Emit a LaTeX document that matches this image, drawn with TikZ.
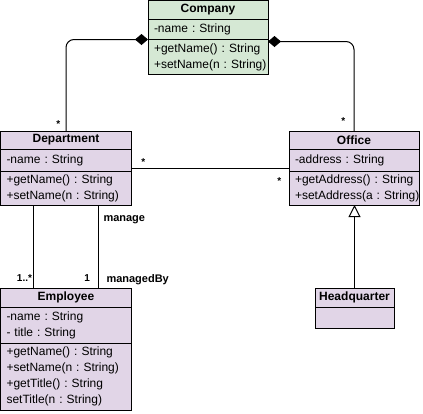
\documentclass[tikz,border=0pt]{standalone}
\usepackage{fontspec}
\setmainfont{Liberation Sans}
\usetikzlibrary{arrows.meta}
\definecolor{umlgreen}{HTML}{D5E8D4}
\definecolor{umlpurple}{HTML}{E1D5E7}
\frenchspacing
\begin{document}
\begin{tikzpicture}[x=1pt, y=-1pt, line width=1pt,
        head/.style={draw, anchor=north west, inner sep=0pt, outer sep=0pt, font=\fontsize{12}{16}\selectfont\bfseries},
        part/.style={draw, anchor=north west, inner xsep=6pt, inner ysep=0pt, outer sep=0pt, align=left, font=\fontsize{12}{16}\selectfont},
        mult/.style={inner sep=0pt, font=\fontsize{10}{12}\selectfont\bfseries},
        role/.style={inner sep=0pt, font=\fontsize{11}{13}\selectfont\bfseries},
        compose/.style={{Diamond[length=13pt, width=11pt]}-, rounded corners=8pt},
        inherit/.style={-{Triangle[open, length=12pt, width=12pt]}}
    ]
    \useasboundingbox (0,0) rectangle (423,413);
    \node[head, fill=umlgreen, minimum width=120pt, minimum height=19pt] (company) at (148,0.5) {Company};
    \node[part, fill=umlgreen, text width=108pt, minimum height=20pt] (companyAttr) at (company.south west) {-name : String};
    \node[part, fill=umlgreen, text width=108pt, minimum height=35pt] (companyOps) at (companyAttr.south west)
        {+getName()~:~String\\+setName(n~:~String)};

    \node[head, fill=umlpurple, minimum width=131pt, minimum height=18pt] (department) at (0.5,131) {Department};
    \node[part, fill=umlpurple, text width=119pt, minimum height=22pt] (deptAttr) at (department.south west) {-name : String};
    \node[part, fill=umlpurple, text width=119pt, minimum height=34pt] (deptOps) at (deptAttr.south west)
        {+getName() : String\\+setName(n : String)};

    \node[head, fill=umlpurple, minimum width=130pt, minimum height=18pt] (office) at (289,131) {Office};
    \node[part, fill=umlpurple, text width=118pt, minimum height=22pt] (officeAttr) at (office.south west) {-address : String};
    \node[part, fill=umlpurple, text width=118pt, minimum height=34pt] (officeOps) at (officeAttr.south west)
        {+getAddress()~:~String\\+setAddress(a~:~String)};

    \node[head, fill=umlpurple, minimum width=131pt, minimum height=19pt] (employee) at (0.5,288) {Employee};
    \node[part, fill=umlpurple, text width=119pt, minimum height=36pt] (empAttr) at (employee.south west)
        {-name : String\\- title : String};
    \node[part, fill=umlpurple, text width=119pt, minimum height=67pt] (empOps) at (empAttr.south west)
        {+getName() : String\\+setName(n : String)\\+getTitle() : String\\setTitle(n : String)};

    \node[head, fill=umlpurple, minimum width=79pt, minimum height=19pt] (hq) at (315,288) {Headquarter};
    \node[part, fill=umlpurple, text width=67pt, minimum height=21pt] (hqBody) at (hq.south west) {};

    \draw[compose] (companyOps.north west) -| (department.north);
    \draw[compose] ([yshift=-2pt]companyOps.north east) -| (office.north);
    \draw ([yshift=3pt]deptOps.north east) -- ([yshift=3pt]officeOps.north west);
    \draw ([xshift=33pt]deptOps.south west) -- ([xshift=33pt]employee.north west);
    \draw ([xshift=98pt]deptOps.south west) -- ([xshift=98pt]employee.north west);
    \draw[inherit] (hq.north) -- (hq.north |- officeOps.south);

    \node[mult, anchor=base] (deptStar) at (58.3,127.5) {*};
    \node[mult, anchor=base] (officeStar) at (343.3,124.1) {*};
    \node[mult, anchor=base] (assocStarL) at (143.3,165.8) {*};
    \node[mult, anchor=base] (assocStarR) at (279.3,184.1) {*};
    \node[mult, anchor=base east] (empMany) at (32.5,281) {1..*};
    \node[mult, anchor=base east] (empOne) at (90.5,281) {1};
    \node[role, anchor=base west] (manageLbl) at (103,221) {manage};
    \node[role, anchor=base west] (managedByLbl) at (106,282) {managedBy};
\end{tikzpicture}
\end{document}
